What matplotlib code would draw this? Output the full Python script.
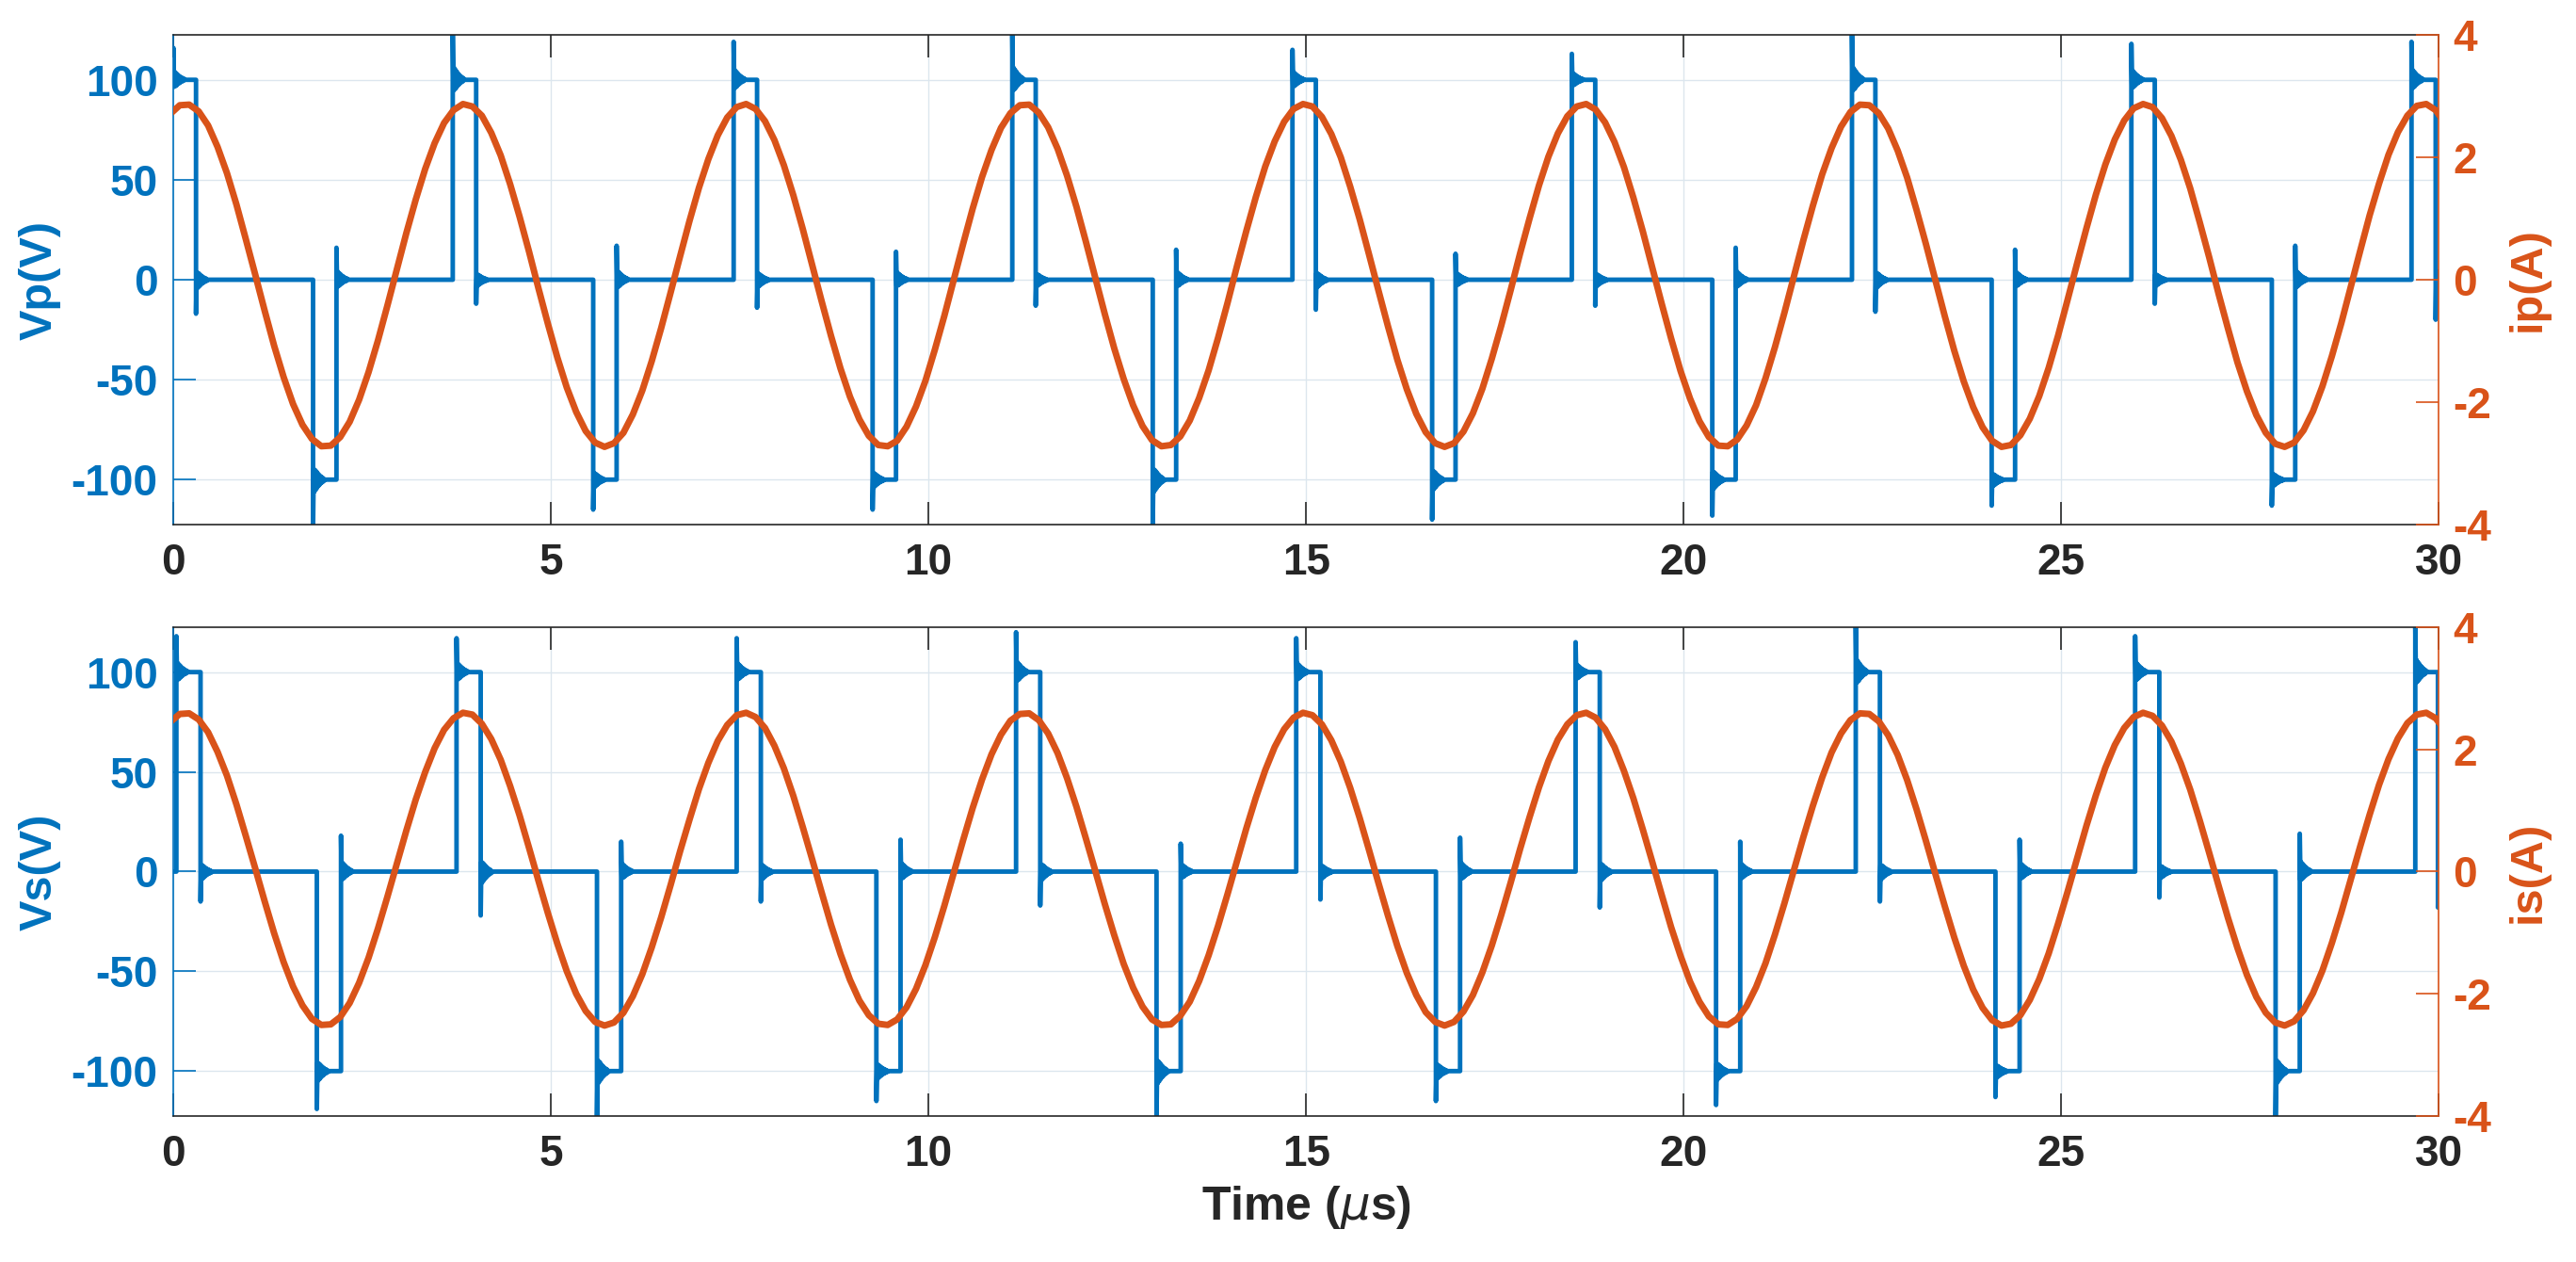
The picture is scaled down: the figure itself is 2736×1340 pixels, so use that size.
import numpy as np
import matplotlib
matplotlib.use('agg')
import matplotlib.pyplot as plt

plt.rcParams['font.family'] = ['Liberation Sans', 'DejaVu Sans']
plt.rcParams['font.weight'] = 'bold'
plt.rcParams['axes.labelweight'] = 'bold'
plt.rcParams['axes.unicode_minus'] = False
plt.rcParams['mathtext.fontset'] = 'custom'
plt.rcParams['mathtext.it'] = 'DejaVu Sans:style=italic:weight=normal'
plt.rcParams['mathtext.rm'] = 'Liberation Sans:weight=bold'

BLUE = '#0072BD'
ORANGE = '#D95319'
DARK = '#262626'
GRID = '#dce6ee'

# ---- voltage edges (us) and the peak value reached at each edge (V) ----
# top panel, primary voltage
vp_on_t = [0.0, 3.70, 7.42, 11.11, 14.82, 18.52, 22.23, 25.93, 29.64]
vp_on_pk = [116, 124, 119, 124, 115, 113, 124, 118, 119]
vp_off_t = [0.30, 4.01, 7.73, 11.42, 15.13, 18.83, 22.54, 26.24, 29.96]
vp_off_pk = [-17, -12, -14, -13, -15, -13, -16, -12, -20]
vp_neg_t = [1.85, 5.56, 9.26, 12.97, 16.67, 20.38, 24.08, 27.79]
vp_neg_pk = [-124, -115, -115, -124, -120, -118, -113, -113]
vp_ret_t = [2.16, 5.87, 9.57, 13.28, 16.98, 20.69, 24.39, 28.10]
vp_ret_pk = [16, 17, 14, 15, 13, 16, 15, 17]

# bottom panel, secondary voltage
vs_on_t = [0.04, 3.75, 7.46, 11.16, 14.87, 18.57, 22.28, 25.98, 29.69]
vs_on_pk = [118, 117, 117, 120, 117, 115, 124, 118, 124]
vs_off_t = [0.36, 4.07, 7.78, 11.48, 15.19, 18.89, 22.60, 26.30, 29.99]
vs_off_pk = [-15, -22, -15, -17, -14, -18, -15, -13, -18]
vs_neg_t = [1.90, 5.61, 9.31, 13.02, 16.72, 20.43, 24.13, 27.84]
vs_neg_pk = [-119, -124, -115, -124, -115, -117, -113, -124]
vs_ret_t = [2.22, 5.93, 9.63, 13.34, 17.04, 20.75, 24.45, 28.16]
vs_ret_pk = [18, 15, 16, 14, 17, 15, 16, 19]

# ringing after each edge, as fraction of the overshoot
ring = [1.0, -0.22, 0.25, -0.2, 0.21, -0.17, 0.17, -0.13, 0.13,
        -0.1, 0.1, -0.07, 0.07, -0.05, 0.05, -0.03, 0.03, 0.0]
ring_dt = 0.009

# ---- currents, sampled every 0.125 us ----
t_cur = np.arange(243) * 0.125 - 0.04
ip_vals = [2.71, 2.85, 2.86, 2.75, 2.52, 2.17, 1.74, 1.23, 0.66, 0.08,
           -0.51, -1.08, -1.59, -2.03, -2.37, -2.60, -2.72, -2.71, -2.57, -2.32,
           -1.96, -1.51, -0.99, -0.42, 0.17, 0.76, 1.31, 1.81, 2.23, 2.56,
           2.77, 2.87, 2.83, 2.68, 2.40, 2.03, 1.56, 1.03, 0.46, -0.14,
           -0.72, -1.27, -1.76, -2.16, -2.47, -2.66, -2.73, -2.67, -2.50, -2.20,
           -1.81, -1.33, -0.79, -0.21, 0.38, 0.96, 1.50, 1.97, 2.36, 2.65,
           2.82, 2.87, 2.79, 2.59, 2.28, 1.87, 1.38, 0.83, 0.24, -0.35,
           -0.92, -1.45, -1.91, -2.28, -2.55, -2.70, -2.72, -2.63, -2.40, -2.07,
           -1.65, -1.14, -0.59, 0.00, 0.59, 1.16, 1.68, 2.12, 2.48, 2.72,
           2.85, 2.86, 2.73, 2.49, 2.14, 1.70, 1.19, 0.62, 0.03, -0.56,
           -1.12, -1.62, -2.05, -2.39, -2.62, -2.72, -2.70, -2.56, -2.30, -1.93,
           -1.48, -0.95, -0.38, 0.22, 0.80, 1.35, 1.85, 2.26, 2.58, 2.79,
           2.87, 2.83, 2.66, 2.38, 2.00, 1.52, 0.99, 0.41, -0.18, -0.76,
           -1.31, -1.79, -2.19, -2.49, -2.67, -2.73, -2.67, -2.48, -2.18, -1.78,
           -1.29, -0.75, -0.17, 0.43, 1.00, 1.54, 2.01, 2.39, 2.67, 2.83,
           2.87, 2.78, 2.57, 2.25, 1.84, 1.34, 0.79, 0.20, -0.39, -0.96,
           -1.49, -1.94, -2.31, -2.57, -2.71, -2.72, -2.61, -2.38, -2.05, -1.61,
           -1.10, -0.54, 0.05, 0.64, 1.20, 1.72, 2.15, 2.50, 2.74, 2.86,
           2.85, 2.72, 2.47, 2.11, 1.67, 1.14, 0.58, -0.01, -0.60, -1.16,
           -1.66, -2.08, -2.41, -2.63, -2.73, -2.70, -2.54, -2.27, -1.90, -1.44,
           -0.91, -0.33, 0.26, 0.84, 1.39, 1.88, 2.29, 2.60, 2.80, 2.87,
           2.82, 2.64, 2.35, 1.96, 1.49, 0.94, 0.37, -0.23, -0.80, -1.35,
           -1.82, -2.21, -2.50, -2.68, -2.73, -2.66, -2.46, -2.15, -1.74, -1.25,
           -0.71, -0.12, 0.47, 1.05, 1.57, 2.04, 2.41, 2.68, 2.84, 2.87,
           2.77, 2.55, 2.23]
is_vals = [2.45, 2.58, 2.59, 2.49, 2.28, 1.96, 1.57, 1.10, 0.58, 0.05,
           -0.49, -1.01, -1.48, -1.88, -2.19, -2.41, -2.51, -2.50, -2.38, -2.15,
           -1.82, -1.41, -0.93, -0.41, 0.13, 0.67, 1.18, 1.63, 2.02, 2.32,
           2.51, 2.60, 2.57, 2.42, 2.17, 1.83, 1.40, 0.92, 0.39, -0.15,
           -0.68, -1.18, -1.63, -2.00, -2.28, -2.46, -2.52, -2.47, -2.31, -2.04,
           -1.68, -1.24, -0.75, -0.22, 0.33, 0.85, 1.35, 1.78, 2.14, 2.40,
           2.56, 2.60, 2.53, 2.35, 2.06, 1.69, 1.24, 0.73, 0.20, -0.34,
           -0.87, -1.35, -1.77, -2.11, -2.35, -2.49, -2.51, -2.42, -2.22, -1.92,
           -1.53, -1.07, -0.56, -0.02, 0.52, 1.04, 1.51, 1.92, 2.24, 2.47,
           2.58, 2.59, 2.48, 2.26, 1.94, 1.53, 1.06, 0.54, 0.01, -0.53,
           -1.04, -1.51, -1.90, -2.21, -2.42, -2.51, -2.50, -2.36, -2.13, -1.79,
           -1.37, -0.89, -0.37, 0.17, 0.71, 1.21, 1.66, 2.04, 2.33, 2.52,
           2.60, 2.56, 2.41, 2.15, 1.80, 1.37, 0.88, 0.35, -0.19, -0.72,
           -1.22, -1.66, -2.02, -2.30, -2.46, -2.52, -2.46, -2.29, -2.02, -1.65,
           -1.21, -0.71, -0.18, 0.37, 0.89, 1.38, 1.81, 2.16, 2.41, 2.56,
           2.60, 2.52, 2.33, 2.04, 1.65, 1.20, 0.69, 0.16, -0.38, -0.91,
           -1.38, -1.80, -2.13, -2.37, -2.50, -2.51, -2.41, -2.20, -1.89, -1.50,
           -1.03, -0.52, 0.02, 0.56, 1.07, 1.54, 1.95, 2.26, 2.48, 2.59,
           2.58, 2.46, 2.23, 1.91, 1.50, 1.02, 0.50, -0.04, -0.57, -1.08,
           -1.54, -1.93, -2.23, -2.43, -2.52, -2.49, -2.35, -2.10, -1.76, -1.34,
           -0.85, -0.33, 0.21, 0.75, 1.25, 1.70, 2.07, 2.35, 2.53, 2.60,
           2.55, 2.39, 2.13, 1.77, 1.34, 0.84, 0.31, -0.23, -0.76, -1.25,
           -1.69, -2.05, -2.31, -2.47, -2.52, -2.45, -2.27, -1.99, -1.62, -1.17,
           -0.67, -0.13, 0.41, 0.93, 1.42, 1.84, 2.18, 2.43, 2.57, 2.60,
           2.51, 2.31, 2.01]

x_ticks = [0, 5, 10, 15, 20, 25, 30]
v_ticks = [-100, -50, 0, 50, 100]
i_ticks = [-4, -2, 0, 2, 4]


def voltage_trace(start, on_t, on_pk, off_t, off_pk, neg_t, neg_pk, ret_t, ret_pk):
    edges = [(t, 100, p) for t, p in zip(on_t, on_pk)]
    edges += [(t, 0, p) for t, p in zip(off_t, off_pk)]
    edges += [(t, -100, p) for t, p in zip(neg_t, neg_pk)]
    edges += [(t, 0, p) for t, p in zip(ret_t, ret_pk)]
    edges.sort()
    tt, vv, lvl = [0.0], [start], start
    for te, new, pk in edges:
        tt += [te, te]
        vv += [lvl, pk]
        for k, r in enumerate(ring[1:], 1):
            tt.append(te + k * ring_dt)
            vv.append(new + r * (pk - new))
        lvl = new
    tt.append(30.5)
    vv.append(lvl)
    return tt, vv


def panel(ax, vt, vv, ivals, vlabel, ilabel):
    ax.plot(vt, vv, color=BLUE, lw=3.5)
    ax.set_xlim(0, 30)
    ax.set_ylim(-122.5, 122.5)
    ax.set_xticks(x_ticks)
    ax.set_yticks(v_ticks)
    ax.grid(True, color=GRID, lw=1.0)
    ax.set_axisbelow(True)
    ax.tick_params(axis='x', direction='in', length=17, width=1.2, top=True,
                   colors=DARK, labelsize=33, pad=14)
    ax.tick_params(axis='y', direction='in', length=17, width=1.2,
                   colors=BLUE, labelsize=33, pad=12)
    ax.set_ylabel(vlabel, color=BLUE, fontsize=35, labelpad=8)
    for s in ['top', 'bottom']:
        ax.spines[s].set_color(DARK)
        ax.spines[s].set_linewidth(1.2)
    ax.spines['left'].set_color(BLUE)
    ax.spines['left'].set_linewidth(1.2)
    ax.spines['right'].set_visible(False)

    ax2 = ax.twinx()
    ax2.plot(t_cur, ivals, color=ORANGE, lw=5.0)
    ax2.set_xlim(0, 30)
    ax2.set_ylim(-4, 4)
    ax2.set_yticks(i_ticks)
    ax2.tick_params(axis='y', direction='in', length=17, width=1.2,
                    colors=ORANGE, labelsize=33, pad=11)
    ax2.set_ylabel(ilabel, color=ORANGE, fontsize=35, labelpad=12)
    for s in ['top', 'bottom', 'left']:
        ax2.spines[s].set_visible(False)
    ax2.spines['right'].set_color(ORANGE)
    ax2.spines['right'].set_linewidth(1.2)
    return ax2


fig = plt.figure(figsize=(27.36, 13.40), dpi=100)
ax_top = fig.add_axes([0.0673, 0.5843, 0.8794, 0.3881])
ax_bot = fig.add_axes([0.0673, 0.1157, 0.8794, 0.3873])

vpt, vpv = voltage_trace(100, vp_on_t, vp_on_pk, vp_off_t, vp_off_pk,
                         vp_neg_t, vp_neg_pk, vp_ret_t, vp_ret_pk)
vst, vsv = voltage_trace(0, vs_on_t, vs_on_pk, vs_off_t, vs_off_pk,
                         vs_neg_t, vs_neg_pk, vs_ret_t, vs_ret_pk)

panel(ax_top, vpt, vpv, ip_vals, 'Vp(V)', 'ip(A)')
panel(ax_bot, vst, vsv, is_vals, 'Vs(V)', 'is(A)')
ax_bot.set_xlabel(r'Time ($\mu$s)', fontsize=36, color=DARK, labelpad=6)

fig.savefig('out.png', dpi=100)
